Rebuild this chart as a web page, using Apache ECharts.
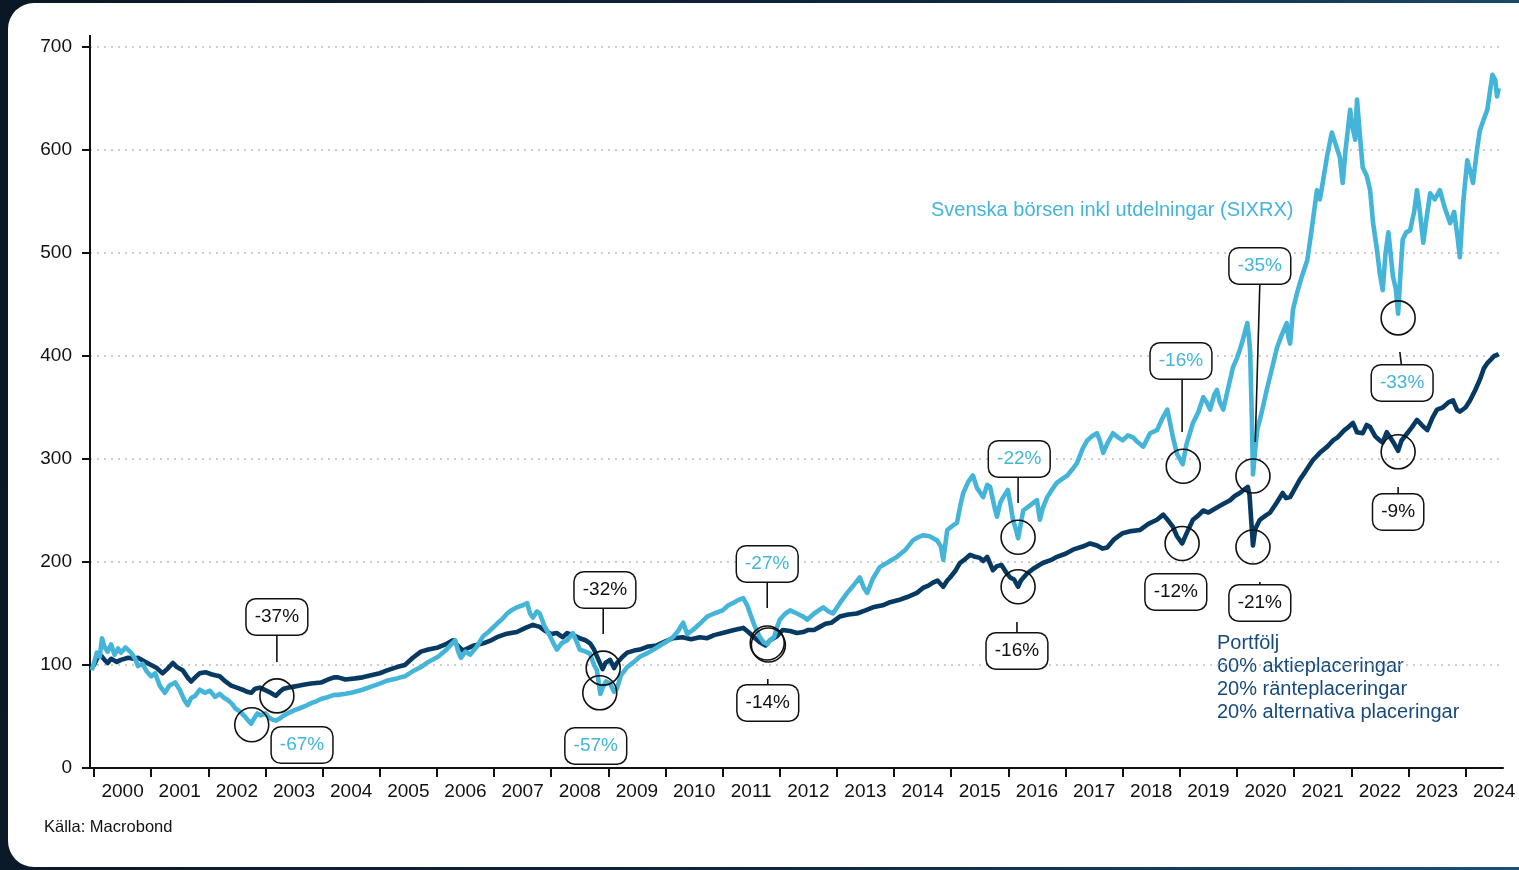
<!DOCTYPE html>
<html>
<head>
<meta charset="utf-8">
<script src="https://cdn.jsdelivr.net/npm/echarts@6/dist/echarts.min.js"></script>
<style>
  html, body { margin: 0; padding: 0; width: 1519px; height: 870px; overflow: hidden; }
  body { position: relative; background: linear-gradient(100deg, #0a1724 0%, #0f263d 55%, #1b5075 100%); }
  #panel { position: absolute; left: 8px; top: 3px; right: 0; bottom: 3px; background: #fff; border-radius: 26px 0 0 26px; }
  #chart { position: absolute; left: 0; top: 0; width: 1519px; height: 870px; }
</style>
</head>
<body>
<div id="panel"></div>
<div id="chart"></div>
<script>
// Svenska börsen inkl utdelningar (SIXRX), [år, index]
const sixrx = [
  [1999.96, 95], [1999.99, 100], [2000.05, 112], [2000.1, 108], [2000.14, 126], [2000.18, 118], [2000.24, 113],
  [2000.3, 120], [2000.36, 110], [2000.42, 116], [2000.47, 112], [2000.55, 117], [2000.65, 112], [2000.72, 106],
  [2000.77, 99], [2000.85, 101], [2000.92, 94], [2001.0, 89], [2001.07, 92], [2001.15, 80], [2001.24, 73],
  [2001.32, 80], [2001.42, 83], [2001.5, 76], [2001.58, 66], [2001.64, 61], [2001.7, 68], [2001.77, 70],
  [2001.85, 76], [2001.94, 73], [2002.03, 75], [2002.12, 69], [2002.2, 72], [2002.28, 68], [2002.34, 66],
  [2002.42, 62], [2002.47, 58], [2002.55, 55], [2002.64, 50], [2002.7, 46], [2002.75, 43], [2002.8, 48],
  [2002.86, 53], [2002.92, 51], [2003.0, 53], [2003.06, 49], [2003.12, 47], [2003.18, 46], [2003.25, 48],
  [2003.32, 51], [2003.39, 53], [2003.5, 56], [2003.6, 58], [2003.69, 60], [2003.8, 63], [2003.9, 65],
  [2003.97, 67], [2004.1, 69], [2004.2, 71], [2004.27, 71], [2004.4, 72], [2004.5, 73], [2004.57, 74],
  [2004.7, 76], [2004.85, 79], [2005.0, 82], [2005.14, 85], [2005.3, 87], [2005.44, 89], [2005.58, 94],
  [2005.72, 98], [2005.85, 103], [2006.02, 108], [2006.15, 114], [2006.25, 120], [2006.32, 124], [2006.38, 112],
  [2006.42, 107], [2006.5, 113], [2006.58, 110], [2006.7, 118], [2006.81, 128], [2006.92, 133], [2007.05, 140],
  [2007.15, 145], [2007.23, 150], [2007.3, 153], [2007.4, 156], [2007.5, 158], [2007.58, 160], [2007.63, 150],
  [2007.68, 146], [2007.75, 152], [2007.8, 150], [2007.88, 138], [2007.98, 128], [2008.05, 120], [2008.1, 115],
  [2008.18, 121], [2008.28, 124], [2008.38, 131], [2008.45, 122], [2008.5, 115], [2008.6, 113], [2008.68, 111],
  [2008.75, 100], [2008.8, 95], [2008.86, 72], [2008.9, 78], [2008.96, 84], [2009.03, 82], [2009.1, 74],
  [2009.15, 77], [2009.22, 90], [2009.33, 98], [2009.45, 103], [2009.55, 108], [2009.7, 112], [2009.85, 117],
  [2010.0, 122], [2010.13, 127], [2010.22, 133], [2010.31, 141], [2010.38, 130], [2010.48, 134], [2010.6, 140],
  [2010.73, 147], [2010.85, 150], [2011.0, 153], [2011.1, 158], [2011.18, 160], [2011.27, 163], [2011.36, 165],
  [2011.43, 158], [2011.48, 150], [2011.56, 138], [2011.65, 127], [2011.72, 122], [2011.78, 120], [2011.83, 124],
  [2011.9, 127], [2011.96, 138], [2012.0, 144], [2012.1, 150], [2012.18, 153], [2012.3, 150], [2012.41, 147],
  [2012.48, 144], [2012.6, 150], [2012.76, 156], [2012.85, 152], [2012.93, 150], [2013.05, 160], [2013.18, 170],
  [2013.3, 178], [2013.4, 185], [2013.47, 175], [2013.53, 170], [2013.63, 184], [2013.75, 195], [2013.9, 200],
  [2014.05, 205], [2014.2, 212], [2014.33, 221], [2014.42, 224], [2014.51, 226], [2014.62, 225], [2014.75, 221],
  [2014.82, 215], [2014.86, 202], [2014.93, 231], [2015.02, 235], [2015.1, 238], [2015.16, 255], [2015.21, 267],
  [2015.3, 278], [2015.38, 284], [2015.45, 272], [2015.56, 263], [2015.63, 275], [2015.68, 273], [2015.75, 255],
  [2015.8, 244], [2015.86, 258], [2015.91, 263], [2015.99, 270], [2016.04, 255], [2016.08, 241], [2016.13, 232],
  [2016.17, 223], [2016.22, 238], [2016.26, 250], [2016.38, 255], [2016.5, 260], [2016.55, 241], [2016.6, 252],
  [2016.68, 263], [2016.76, 270], [2016.85, 277], [2016.95, 281], [2017.03, 284], [2017.12, 290], [2017.2, 296],
  [2017.3, 310], [2017.38, 318], [2017.46, 322], [2017.55, 325], [2017.6, 318], [2017.66, 306], [2017.73, 315],
  [2017.83, 325], [2017.92, 321], [2018.0, 318], [2018.09, 323], [2018.18, 321], [2018.27, 316], [2018.36, 312],
  [2018.48, 325], [2018.6, 328], [2018.7, 340], [2018.78, 348], [2018.83, 335], [2018.88, 321], [2018.95, 305],
  [2019.05, 295], [2019.12, 315], [2019.23, 335], [2019.32, 345], [2019.41, 360], [2019.47, 355], [2019.53, 348],
  [2019.6, 362], [2019.65, 367], [2019.7, 355], [2019.76, 348], [2019.85, 370], [2019.93, 389], [2020.0, 398],
  [2020.05, 406], [2020.1, 415], [2020.18, 432], [2020.21, 418], [2020.23, 405], [2020.26, 340], [2020.28, 285],
  [2020.32, 310], [2020.36, 330], [2020.4, 338], [2020.46, 352], [2020.52, 367], [2020.6, 385], [2020.7, 408],
  [2020.78, 420], [2020.87, 432], [2020.9, 418], [2020.93, 412], [2020.98, 445], [2021.05, 461], [2021.14, 478],
  [2021.23, 493], [2021.3, 520], [2021.4, 561], [2021.45, 552], [2021.5, 568], [2021.58, 595], [2021.66, 617],
  [2021.73, 605], [2021.8, 593], [2021.85, 568], [2021.9, 600], [2021.98, 639], [2022.03, 620], [2022.07, 610],
  [2022.1, 649], [2022.15, 615], [2022.2, 583], [2022.27, 575], [2022.33, 561], [2022.38, 530], [2022.45, 503],
  [2022.5, 480], [2022.55, 464], [2022.6, 500], [2022.65, 520], [2022.68, 519], [2022.73, 477], [2022.78, 465],
  [2022.82, 441], [2022.86, 480], [2022.9, 513], [2022.96, 520], [2023.03, 522], [2023.1, 540], [2023.15, 561],
  [2023.2, 540], [2023.26, 510], [2023.32, 535], [2023.38, 558], [2023.46, 552], [2023.55, 561], [2023.63, 545],
  [2023.73, 529], [2023.8, 540], [2023.86, 515], [2023.9, 496], [2023.96, 550], [2024.03, 590], [2024.08, 580],
  [2024.13, 568], [2024.2, 600], [2024.25, 619], [2024.32, 630], [2024.38, 639], [2024.43, 658], [2024.47, 673],
  [2024.52, 668], [2024.55, 652], [2024.58, 660]
]

// Portfölj 60/20/20, [år, index]
const portfolj = [
  [1999.96, 97], [2000.0, 100], [2000.05, 106], [2000.1, 110], [2000.14, 108], [2000.2, 104], [2000.24, 102],
  [2000.3, 106], [2000.4, 103], [2000.47, 105], [2000.6, 107], [2000.7, 106], [2000.77, 107], [2000.9, 103],
  [2001.0, 100], [2001.1, 97], [2001.2, 92], [2001.28, 96], [2001.38, 102], [2001.45, 98], [2001.55, 95],
  [2001.65, 87], [2001.7, 84], [2001.77, 88], [2001.85, 92], [2001.95, 93], [2002.05, 91], [2002.12, 90],
  [2002.2, 89], [2002.3, 84], [2002.4, 80], [2002.5, 78], [2002.6, 76], [2002.68, 74], [2002.75, 73],
  [2002.82, 77], [2002.9, 78], [2002.98, 76], [2003.06, 74], [2003.12, 72], [2003.18, 70], [2003.25, 74],
  [2003.32, 77], [2003.39, 78], [2003.5, 79], [2003.6, 80], [2003.69, 81], [2003.8, 82], [2003.97, 83],
  [2004.1, 86], [2004.2, 88], [2004.27, 88], [2004.4, 86], [2004.57, 87], [2004.7, 88], [2004.85, 90],
  [2005.0, 92], [2005.14, 95], [2005.3, 98], [2005.44, 100], [2005.58, 107], [2005.72, 113], [2005.85, 115],
  [2006.02, 117], [2006.15, 120], [2006.28, 124], [2006.38, 118], [2006.45, 114], [2006.53, 116], [2006.65, 119],
  [2006.81, 121], [2006.95, 124], [2007.05, 127], [2007.2, 130], [2007.4, 132], [2007.55, 136], [2007.68, 139],
  [2007.8, 137], [2007.9, 133], [2008.0, 130], [2008.1, 131], [2008.2, 127], [2008.28, 131], [2008.38, 129],
  [2008.5, 126], [2008.6, 124], [2008.68, 121], [2008.75, 115], [2008.82, 106], [2008.9, 96], [2008.95, 102],
  [2009.03, 105], [2009.1, 97], [2009.15, 102], [2009.25, 108], [2009.33, 112], [2009.45, 114], [2009.55, 115],
  [2009.7, 118], [2009.85, 119], [2010.0, 123], [2010.13, 126], [2010.3, 127], [2010.45, 125], [2010.6, 127],
  [2010.73, 126], [2010.85, 129], [2011.0, 131], [2011.2, 134], [2011.36, 136], [2011.45, 132], [2011.55, 127],
  [2011.65, 122], [2011.75, 119], [2011.83, 124], [2011.95, 128], [2012.05, 134], [2012.18, 133], [2012.3, 131],
  [2012.41, 132], [2012.5, 134], [2012.6, 134], [2012.7, 137], [2012.8, 140], [2012.9, 141], [2013.05, 147],
  [2013.2, 149], [2013.35, 150], [2013.5, 153], [2013.63, 156], [2013.8, 158], [2013.93, 161], [2014.08, 163],
  [2014.23, 166], [2014.4, 170], [2014.51, 175], [2014.6, 177], [2014.68, 180], [2014.76, 182], [2014.86, 176],
  [2014.93, 182], [2014.98, 185], [2015.08, 192], [2015.15, 199], [2015.25, 203], [2015.33, 207], [2015.42, 205],
  [2015.5, 204], [2015.56, 201], [2015.63, 205], [2015.73, 192], [2015.8, 196], [2015.88, 197], [2015.96, 190],
  [2016.03, 185], [2016.1, 183], [2016.17, 176], [2016.22, 182], [2016.33, 189], [2016.45, 194], [2016.6, 199],
  [2016.75, 202], [2016.85, 205], [2017.0, 208], [2017.13, 212], [2017.3, 215], [2017.43, 218], [2017.55, 216],
  [2017.65, 213], [2017.73, 214], [2017.85, 222], [2018.0, 228], [2018.15, 230], [2018.3, 231], [2018.45, 237],
  [2018.6, 241], [2018.71, 246], [2018.8, 240], [2018.88, 234], [2018.95, 225], [2019.04, 218], [2019.12, 228],
  [2019.23, 241], [2019.32, 245], [2019.41, 250], [2019.5, 248], [2019.65, 253], [2019.75, 256], [2019.88, 260],
  [2019.96, 264], [2020.05, 267], [2020.12, 270], [2020.19, 273], [2020.22, 265], [2020.25, 240], [2020.28, 216],
  [2020.32, 232], [2020.4, 241], [2020.5, 245], [2020.58, 248], [2020.7, 258], [2020.8, 267], [2020.86, 262],
  [2020.93, 263], [2021.02, 272], [2021.1, 280], [2021.2, 288], [2021.33, 299], [2021.45, 306], [2021.58, 312],
  [2021.68, 318], [2021.76, 321], [2021.88, 328], [2021.95, 331], [2022.03, 335], [2022.1, 326], [2022.2, 325],
  [2022.27, 333], [2022.33, 331], [2022.42, 322], [2022.5, 318], [2022.55, 316], [2022.62, 326], [2022.68, 321],
  [2022.75, 315], [2022.82, 308], [2022.88, 318], [2022.98, 325], [2023.05, 330], [2023.15, 338], [2023.25, 332],
  [2023.33, 328], [2023.42, 340], [2023.5, 348], [2023.6, 350], [2023.7, 355], [2023.78, 357], [2023.85, 348],
  [2023.9, 346], [2024.0, 350], [2024.08, 357], [2024.17, 367], [2024.25, 377], [2024.32, 388], [2024.38, 393],
  [2024.45, 397], [2024.5, 400], [2024.55, 401], [2024.58, 402]
]

const yearTicks = [2000, 2001, 2002, 2003, 2004, 2005, 2006, 2007, 2008, 2009, 2010, 2011, 2012,
  2013, 2014, 2015, 2016, 2017, 2018, 2019, 2020, 2021, 2022, 2023, 2024]
const yearLabels = yearTicks.map(y => y + 0.5)

// ringar runt bottnarna
const circles = [
  [2003.2, 70], [2002.76, 42], [2008.91, 97], [2008.85, 73], [2011.78, 121.4], [2011.8, 119.4],
  [2016.17, 224], [2016.17, 176], [2019.06, 293], [2019.04, 218], [2020.28, 283.5], [2020.28, 214.6],
  [2022.82, 437], [2022.82, 307]
]

// streck mellan ring och etikett: [x1, y1, x2, y2]
const leaders = [
  [2003.2, 129, 2003.2, 103], [2008.91, 156, 2008.91, 130], [2011.78, 181.6, 2011.78, 155.3],
  [2011.79, 86.4, 2011.79, 79.6], [2016.17, 282.5, 2016.17, 257.3], [2016.15, 141.7, 2016.15, 130.1],
  [2019.04, 378.6, 2019.04, 326.2], [2020.4, 469.9, 2020.32, 316.5], [2020.4, 180.6, 2020.4, 176.7],
  [2022.85, 403.9, 2022.88, 390.3], [2022.82, 272.8, 2022.82, 265]
]

const labelPos = [
  [2003.2, 146.6], [2003.64, 22.3], [2008.94, 172.8], [2008.78, 21.4], [2011.78, 198.1], [2011.79, 63.1],
  [2016.19, 300], [2016.15, 113.6], [2019.02, 395.1], [2018.93, 170.9], [2020.4, 487.4], [2020.4, 160.2],
  [2022.89, 373.8], [2022.82, 248.5]
]
const labelTexts = ['-37%', '-67%', '-32%', '-57%', '-27%', '-14%', '-22%', '-16%', '-16%', '-12%',
  '-35%', '-21%', '-33%', '-9%']
const labelOwner = ['p', 's', 'p', 's', 's', 'p', 's', 'p', 's', 'p', 's', 'p', 's', 'p']

const lightBlue = '#44b4d9'
const darkBlue = '#073a62'
const font = '"Liberation Sans", Arial, Helvetica, sans-serif'

var myChart = echarts.init(document.getElementById('chart'))
var option

option = {
  backgroundColor: 'transparent',
  animation: false,
  textStyle: { fontFamily: font },
  grid: { left: 90, right: 16, top: 47, bottom: 102 },
  xAxis: {
    type: 'value',
    min: 1999.93,
    max: 2024.655,
    axisLine: { lineStyle: { color: '#111', width: 2 } },
    axisTick: { show: true, customValues: yearTicks, length: 9, lineStyle: { color: '#111', width: 2 } },
    axisLabel: {
      customValues: yearLabels,
      formatter: v => String(Math.floor(v)),
      color: '#111',
      fontSize: 19,
      margin: 14
    },
    splitLine: { show: false }
  },
  yAxis: {
    type: 'value',
    min: 0,
    max: 700,
    interval: 100,
    axisLine: { show: true, lineStyle: { color: '#111', width: 2 } },
    axisTick: { show: true, length: 8, lineStyle: { color: '#111', width: 2 } },
    axisLabel: { color: '#111', fontSize: 19, margin: 18 },
    splitLine: { show: true, lineStyle: { type: [2, 5], color: '#bdbdbd', width: 1.5 } }
  },
  graphic: [
    {
      // axeln sticker upp lite ovanför 700
      type: 'line', shape: { x1: 90, y1: 35, x2: 90, y2: 47 },
      style: { stroke: '#111', lineWidth: 2 }
    },
    {
      type: 'text', left: 931, top: 200,
      style: { text: 'Svenska börsen inkl utdelningar (SIXRX)', fill: lightBlue, font: '20px ' + font, lineHeight: 20 }
    },
    {
      type: 'text', left: 1217, top: 632,
      style: {
        text: 'Portfölj\n60% aktieplaceringar\n20% ränteplaceringar\n20% alternativa placeringar',
        fill: '#174a7c', font: '20px ' + font, lineHeight: 23
      }
    },
    {
      type: 'text', left: 44, top: 819,
      style: { text: 'Källa: Macrobond', fill: '#111', font: '16.5px ' + font, lineHeight: 17 }
    }
  ],
  series: [
    {
      name: 'Portfölj',
      type: 'line',
      data: portfolj,
      showSymbol: false,
      lineStyle: { color: darkBlue, width: 4.6, join: 'round' },
      z: 2
    },
    {
      name: 'SIXRX',
      type: 'line',
      data: sixrx,
      showSymbol: false,
      lineStyle: { color: lightBlue, width: 4.6, join: 'round' },
      z: 3
    },
    {
      type: 'custom',
      data: circles,
      silent: true,
      z: 5,
      renderItem: (params, api) => {
        const p = api.coord([api.value(0), api.value(1)])
        return { type: 'circle', shape: { cx: p[0], cy: p[1], r: 17 }, style: { fill: 'none', stroke: '#111', lineWidth: 1.6 } }
      }
    },
    {
      type: 'custom',
      data: leaders,
      silent: true,
      z: 5,
      renderItem: (params, api) => {
        const a = api.coord([api.value(0), api.value(1)])
        const b = api.coord([api.value(2), api.value(3)])
        return { type: 'line', shape: { x1: a[0], y1: a[1], x2: b[0], y2: b[1] }, style: { stroke: '#111', lineWidth: 1.6 } }
      }
    },
    {
      type: 'custom',
      data: labelPos,
      silent: true,
      z: 6,
      renderItem: (params, api) => {
        const p = api.coord([api.value(0), api.value(1)])
        const i = params.dataIndex
        return {
          type: 'text',
          x: p[0],
          y: p[1],
          style: {
            text: labelTexts[i],
            fill: labelOwner[i] === 's' ? lightBlue : '#111',
            font: '19px ' + font,
            align: 'center',
            verticalAlign: 'middle',
            lineHeight: 19,
            backgroundColor: '#fff',
            borderColor: '#111',
            borderWidth: 1.5,
            borderRadius: 9,
            padding: [8, 8]
          }
        }
      }
    }
  ]
}

option && myChart.setOption(option)
</script>
</body>
</html>
